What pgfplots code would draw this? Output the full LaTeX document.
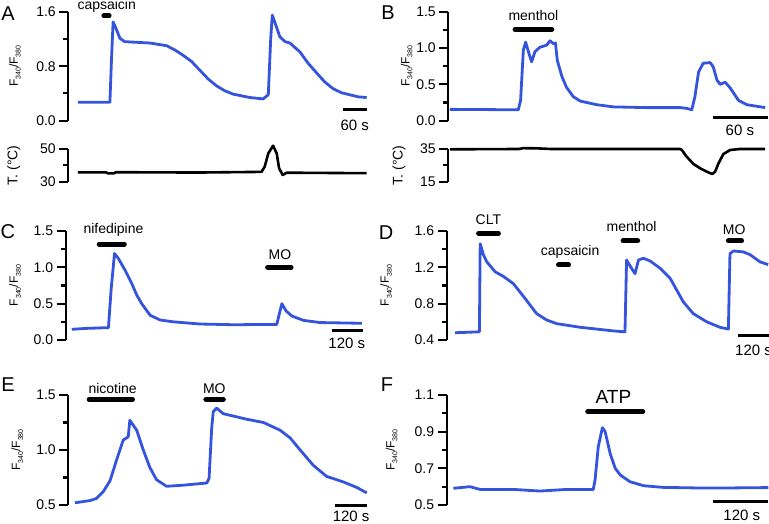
\documentclass[border=0pt]{standalone}
\usepackage{fontspec}
\setmainfont{Liberation Sans}
\usepackage{pgfplots}
\pgfplotsset{compat=1.18}
\definecolor{trblue}{RGB}{52,84,222}

\newcommand{\ratio}{F\raisebox{-0.45ex}{\fontsize{7}{8}\selectfont 340}/F\raisebox{-0.45ex}{\fontsize{7}{8}\selectfont 380}}

\pgfplotsset{
  panel/.style={
    scale only axis, clip=false,
    axis x line=none, axis y line=left,
    axis line style={-, line width=2.1pt},
    tick align=outside, ytick pos=left,
    major tick length=9pt, minor tick length=5pt,
    tick style={line width=2.1pt, black},
    minor y tick num=1,
    yticklabel style={font=\fontsize{14}{16}\selectfont,
      /pgf/number format/fixed, /pgf/number format/fixed zerofill,
      /pgf/number format/precision=1},
    /pgf/number format/assume math mode=true,
    ylabel style={font=\fontsize{12}{14}\selectfont, anchor=center},
  },
  ca/.style={color=trblue, line width=2.8pt, line join=round, no marks},
  temp/.style={black, line width=2.6pt, line join=round, no marks},
  drug/.style={black, line width=5pt, line cap=round, no marks},
  scalebar/.style={black, line width=3pt, no marks},
}
\tikzset{
  lbl/.style={font=\fontsize{14}{16}\selectfont, inner sep=0pt},
  sbl/.style={font=\fontsize{15}{17}\selectfont, inner sep=0pt},
  letter/.style={font=\fontsize{20}{22}\selectfont, inner sep=0pt},
}

\begin{document}
\begin{tikzpicture}
\useasboundingbox (0,0) rectangle (769pt,524pt);

% ---------- A ----------
\begin{axis}[panel, at={(68.3pt,403.3pt)}, anchor=south west,
  width=300pt, height=109pt,
  xmin=-24, xmax=726, ymin=0, ymax=1.6, ytick={0,0.8,1.6},
  ylabel={\ratio}, ylabel style={at={(axis description cs:-0.178,0.5)}}]
\addplot[ca] coordinates {(0,0.27)(80,0.27)(84,0.9)(88,1.45)(97,1.33)(105,1.21)
  (117,1.16)(180,1.14)(222,1.10)(242,1.04)(263,0.96)(284,0.87)(305,0.74)(326,0.61)
  (347,0.51)(367,0.44)(388,0.39)(430,0.34)(463,0.32)(476,0.38)(482,1.2)(486,1.55)
  (492,1.45)(505,1.23)(518,1.16)(530,1.14)(555,1.01)(576,0.84)(597,0.70)(617,0.57)
  (638,0.47)(659,0.41)(680,0.38)(701,0.35)(722,0.34)};
\addplot[drug] coordinates {(65,1.54)(78,1.54)};
\addplot[scalebar] coordinates {(663,0.17)(722,0.17)};
\node[lbl] at (axis cs:72,1.68) {capsaicin};
\node[sbl] at (axis cs:692,-0.07) {60 s};
\node[letter] at (axis description cs:-0.201,0.979) {A};
\end{axis}

\begin{axis}[panel, at={(68.3pt,342.3pt)}, anchor=south west,
  width=300pt, height=32.7pt,
  xmin=-24, xmax=726, ymin=30, ymax=50, ytick={30,50}, yticklabels={30,50},
  ylabel={T. (°C)}, ylabel style={at={(axis description cs:-0.182,0.5)},
  font=\fontsize{14}{16}\selectfont}]
\addplot[temp] coordinates {(0,35.7)(70,35.7)(75,35.1)(90,35.1)(95,35.8)(300,35.6)
  (459,36.0)(467,39.2)(476,47.3)(488,52)(497,47.3)(503,38.2)(512,34.1)(522,35.5)(722,35.2)};
\end{axis}

% ---------- B ----------
\begin{axis}[panel, at={(448.3pt,403.3pt)}, anchor=south west,
  width=320pt, height=109pt,
  xmin=-1.8, xmax=347, ymin=0, ymax=1.5, ytick={0,0.5,1,1.5},
  ylabel={\ratio}, ylabel style={at={(axis description cs:-0.13,0.5)}}]
\addplot[ca] coordinates {(0,0.156)(74.5,0.15)(77,0.28)(80,0.97)(82.5,1.08)(86,0.93)
  (89,0.81)(92.7,0.95)(98,1.01)(105.5,1.04)(109,1.10)(112.7,1.06)(115,1.07)(117,0.83)
  (122,0.61)(127,0.46)(134.5,0.33)(142,0.27)(160,0.22)(178,0.19)(214.5,0.18)(251,0.18)
  (258,0.17)(263.6,0.15)(267,0.33)(271,0.67)(276,0.79)(283.6,0.80)(287,0.74)(291,0.56)
  (294.5,0.50)(300,0.53)(305.5,0.45)(314.5,0.28)(323.6,0.22)(343.6,0.18)};
\addplot[drug] coordinates {(71,1.257)(111,1.257)};
\addplot[scalebar] coordinates {(287,0.046)(347,0.046)};
\node[lbl] at (axis cs:91,1.445) {menthol};
\node[sbl] at (axis cs:316,-0.13) {60 s};
\node[letter] at (axis description cs:-0.188,0.988) {B};
\end{axis}

\begin{axis}[panel, at={(448.3pt,342.3pt)}, anchor=south west,
  width=320pt, height=32.7pt,
  xmin=-1.8, xmax=347, ymin=15, ymax=35, ytick={15,35}, yticklabels={15,35},
  ylabel={T. (°C)}, ylabel style={at={(axis description cs:-0.154,0.5)},
  font=\fontsize{14}{16}\selectfont}]
\addplot[temp] coordinates {(0,34.8)(75,35)(80,35.5)(95,35.4)(110,35)(251,35)
  (252.7,34.4)(258,30.3)(265.5,25.8)(272.7,23.2)(280,21.1)(286,19.7)(289,21.1)
  (292.7,26.2)(298,31.9)(305.5,34.4)(316,35)(343.6,35)};
\end{axis}

% ---------- C ----------
\begin{axis}[panel, at={(65.7pt,184pt)}, anchor=south west,
  width=297.7pt, height=109pt,
  xmin=-23, xmax=1105, ymin=0, ymax=1.5, ytick={0,0.5,1,1.5},
  ylabel={\ratio}, ylabel style={at={(axis description cs:-0.170,0.5)}}]
\addplot[ca] coordinates {(0,0.147)(57,0.16)(139,0.17)(149,0.69)(162,1.19)(177,1.12)
  (202,0.96)(227,0.78)(246,0.62)(265,0.50)(297,0.34)(335,0.275)(385,0.25)(486,0.22)
  (613,0.21)(777,0.215)(787,0.37)(796,0.50)(812,0.40)(834,0.33)(878,0.27)(941,0.24)(1099,0.23)};
\addplot[drug] coordinates {(104,1.32)(199,1.32)};
\addplot[drug] coordinates {(742,1.0)(831,1.0)};
\addplot[scalebar] coordinates {(985,0.124)(1105,0.124)};
\node[lbl] at (axis cs:158,1.51) {nifedipine};
\node[lbl] at (axis cs:789,1.18) {MO};
\node[sbl] at (axis cs:1042,-0.046) {120 s};
\node[letter] at (axis description cs:-0.194,0.994) {C};
\end{axis}

% ---------- D ----------
\begin{axis}[panel, at={(446.7pt,184pt)}, anchor=south west,
  width=322.3pt, height=109pt,
  xmin=-32, xmax=1190, ymin=0.4, ymax=1.6, ytick={0.4,0.8,1.2,1.6},
  ylabel={\ratio}, ylabel style={at={(axis description cs:-0.188,0.5)}}]
\addplot[ca] coordinates {(0,0.48)(92,0.49)(95,1.46)(107,1.34)(120,1.26)(152,1.15)
  (183,1.10)(221,1.02)(259,0.88)(309,0.69)(347,0.62)(385,0.58)(474,0.54)(600,0.50)
  (644,0.49)(650,1.28)(660,1.23)(682,1.13)(695,1.28)(714,1.30)(739,1.27)(777,1.19)
  (815,1.08)(840,0.95)(865,0.82)(903,0.69)(954,0.60)(1004,0.54)(1036,0.52)(1042,1.35)
  (1055,1.38)(1092,1.37)(1118,1.34)(1156,1.26)(1187,1.23)};
\addplot[drug] coordinates {(89,1.574)(164,1.574)};
\addplot[drug] coordinates {(392,1.226)(430,1.226)};
\addplot[drug] coordinates {(637,1.49)(692,1.49)};
\addplot[drug] coordinates {(1036,1.49)(1086,1.49)};
\addplot[scalebar] coordinates {(1074,0.448)(1194,0.448)};
\node[lbl] at (axis cs:126,1.72) {CLT};
\node[lbl] at (axis cs:436,1.37) {capsaicin};
\node[lbl] at (axis cs:669,1.65) {menthol};
\node[lbl] at (axis cs:1058,1.61) {MO};
\node[sbl, anchor=west] at (axis cs:1061,0.29) {120 s};
\node[letter] at (axis description cs:-0.188,0.982) {D};
\end{axis}

% ---------- E ----------
\begin{axis}[panel, at={(68.3pt,19pt)}, anchor=south west,
  width=300pt, height=110pt,
  xmin=-25, xmax=1111, ymin=0.5, ymax=1.5, ytick={0.5,1,1.5},
  ylabel={\ratio}, ylabel style={at={(axis description cs:-0.17,0.5)}}]
\addplot[ca] coordinates {(0,0.52)(57,0.54)(82,0.56)(107,0.62)(133,0.72)(158,0.91)
  (183,1.09)(202,1.12)(208,1.27)(234,1.18)(259,1.0)(284,0.84)(309,0.73)(347,0.67)
  (410,0.68)(499,0.70)(508,0.74)(518,1.20)(524,1.35)(537,1.38)(562,1.33)(650,1.28)
  (714,1.25)(777,1.18)(815,1.11)(853,1.0)(903,0.86)(953,0.76)(1016,0.71)(1067,0.66)
  (1105,0.61)};
\addplot[drug] coordinates {(54,1.46)(218,1.46)};
\addplot[drug] coordinates {(496,1.46)(562,1.46)};
\addplot[scalebar] coordinates {(985,0.494)(1105,0.494)};
\node[lbl] at (axis cs:143,1.56) {nicotine};
\node[lbl] at (axis cs:528,1.56) {MO};
\node[sbl] at (axis cs:1046,0.40) {120 s};
\node[letter] at (axis description cs:-0.201,1.09) {E};
\end{axis}

% ---------- F ----------
\begin{axis}[panel, at={(446.7pt,19pt)}, anchor=south west,
  width=321.7pt, height=110pt,
  xmin=-14.5, xmax=687, ymin=0.5, ymax=1.1, ytick={0.5,0.7,0.9,1.1},
  ylabel={\ratio}, ylabel style={at={(axis description cs:-0.171,0.5)}}]
\addplot[ca] coordinates {(0,0.591)(36,0.60)(58,0.585)(131,0.585)(189,0.576)(247,0.585)
  (305,0.585)(309,0.636)(316,0.818)(325,0.922)(331,0.90)(342,0.78)(353,0.70)(364,0.664)
  (385,0.627)(415,0.605)(458,0.596)(531,0.593)(604,0.593)(687,0.595)};
\addplot[drug] coordinates {(293,1.009)(413,1.009)};
\addplot[scalebar] coordinates {(567,0.518)(687,0.518)};
\node[font=\fontsize{19}{21}\selectfont, inner sep=0pt] at (axis cs:349,1.09) {ATP};
\node[sbl] at (axis cs:629,0.445) {120 s};
\node[letter] at (axis description cs:-0.186,1.09) {F};
\end{axis}
\end{tikzpicture}
\end{document}
